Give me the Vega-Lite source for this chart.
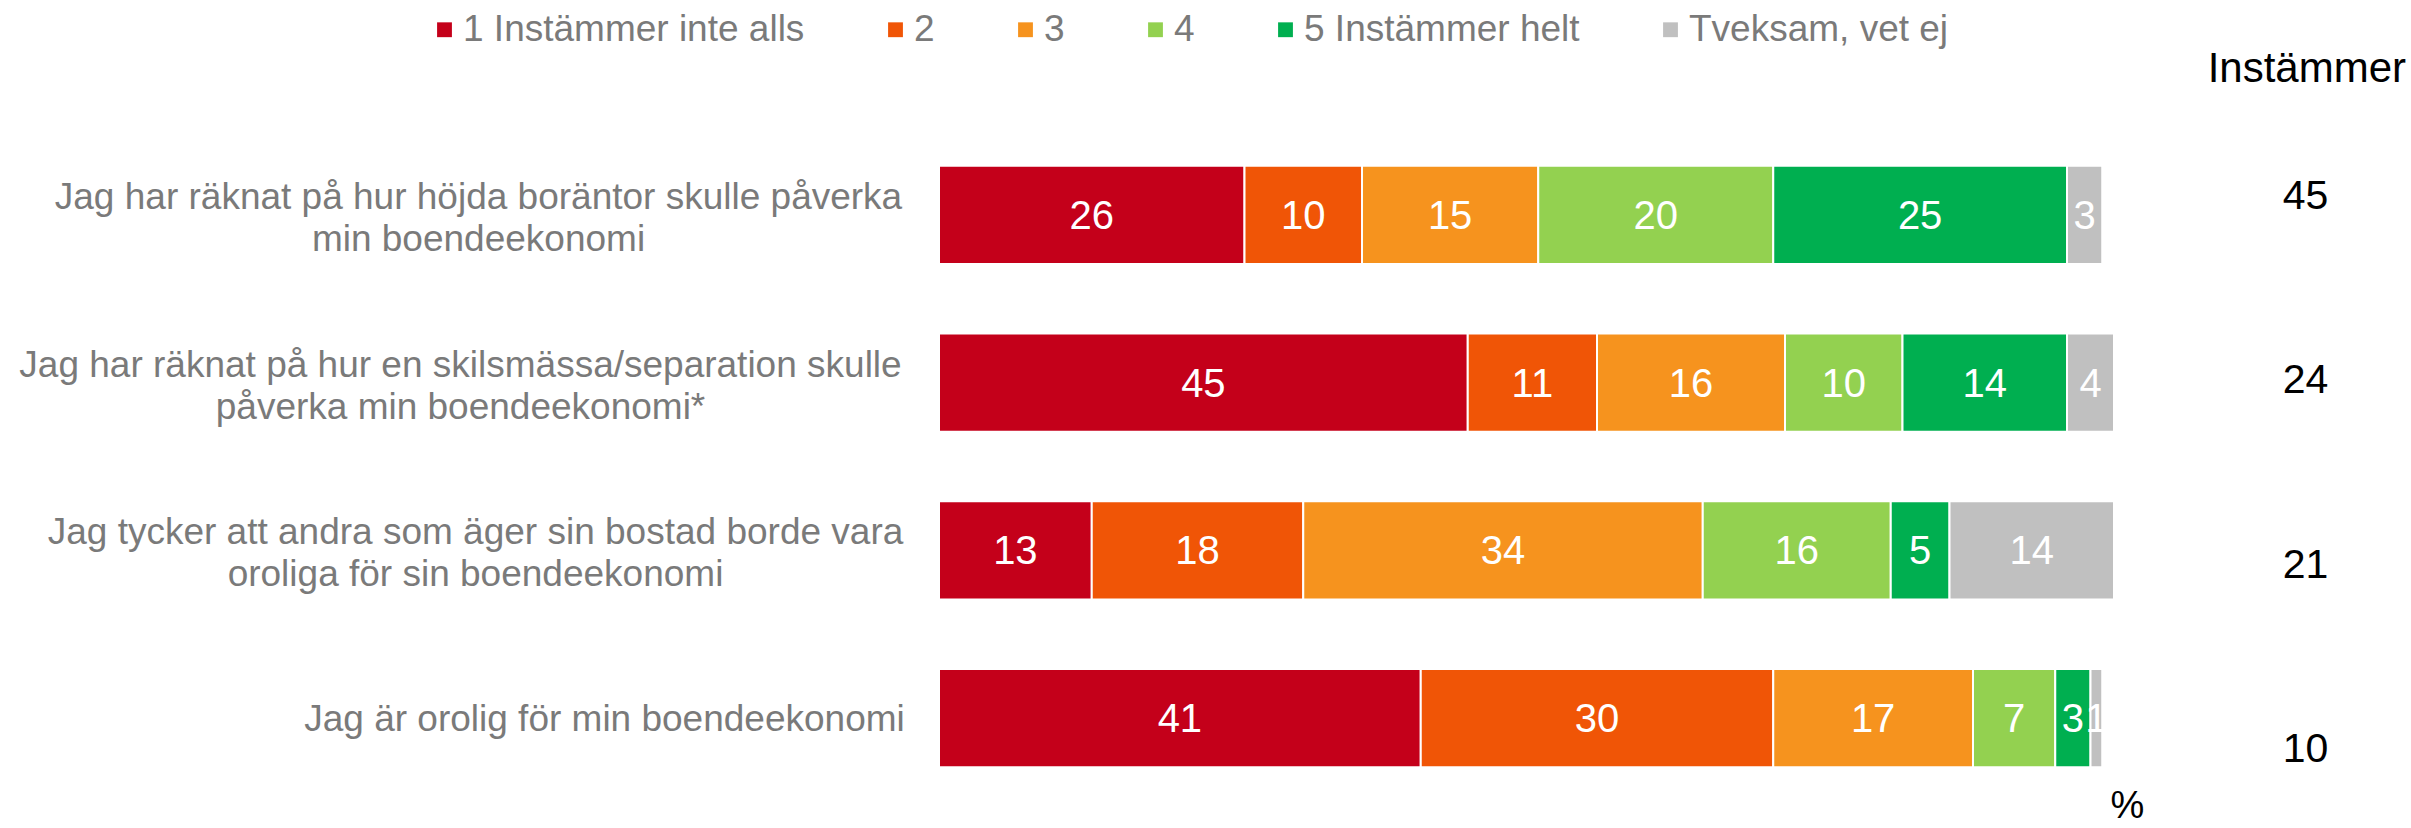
{
  "$schema": "https://vega.github.io/schema/vega-lite/v6.json",
  "width": 1175,
  "height": 671,
  "autosize": "none",
  "padding": {"left": 939, "top": 131, "right": 297, "bottom": 26},
  "background": "white",
  "config": {"view": {"stroke": null}, "font": "Liberation Sans"},
  "title": {"text": "Instämmer", "anchor": "end", "frame": "group", "orient": "top", "fontSize": 42, "fontWeight": "normal", "color": "#000000", "dx": 292, "dy": 80, "offset": 0, "font": "Liberation Sans"},
  "resolve": {"scale": {"y": "independent"}},
  "datasets": {
    "resp": [
      {"q": "Jag har räknat på hur höjda boräntor skulle påverka\nmin boendeekonomi", "cat": "1 Instämmer inte alls", "v": 26},
      {"q": "Jag har räknat på hur höjda boräntor skulle påverka\nmin boendeekonomi", "cat": "2", "v": 10},
      {"q": "Jag har räknat på hur höjda boräntor skulle påverka\nmin boendeekonomi", "cat": "3", "v": 15},
      {"q": "Jag har räknat på hur höjda boräntor skulle påverka\nmin boendeekonomi", "cat": "4", "v": 20},
      {"q": "Jag har räknat på hur höjda boräntor skulle påverka\nmin boendeekonomi", "cat": "5 Instämmer helt", "v": 25},
      {"q": "Jag har räknat på hur höjda boräntor skulle påverka\nmin boendeekonomi", "cat": "Tveksam, vet ej", "v": 3},
      {"q": "Jag har räknat på hur en skilsmässa/separation skulle\npåverka min boendeekonomi*", "cat": "1 Instämmer inte alls", "v": 45},
      {"q": "Jag har räknat på hur en skilsmässa/separation skulle\npåverka min boendeekonomi*", "cat": "2", "v": 11},
      {"q": "Jag har räknat på hur en skilsmässa/separation skulle\npåverka min boendeekonomi*", "cat": "3", "v": 16},
      {"q": "Jag har räknat på hur en skilsmässa/separation skulle\npåverka min boendeekonomi*", "cat": "4", "v": 10},
      {"q": "Jag har räknat på hur en skilsmässa/separation skulle\npåverka min boendeekonomi*", "cat": "5 Instämmer helt", "v": 14},
      {"q": "Jag har räknat på hur en skilsmässa/separation skulle\npåverka min boendeekonomi*", "cat": "Tveksam, vet ej", "v": 4},
      {"q": "Jag tycker att andra som äger sin bostad borde vara\noroliga för sin boendeekonomi", "cat": "1 Instämmer inte alls", "v": 13},
      {"q": "Jag tycker att andra som äger sin bostad borde vara\noroliga för sin boendeekonomi", "cat": "2", "v": 18},
      {"q": "Jag tycker att andra som äger sin bostad borde vara\noroliga för sin boendeekonomi", "cat": "3", "v": 34},
      {"q": "Jag tycker att andra som äger sin bostad borde vara\noroliga för sin boendeekonomi", "cat": "4", "v": 16},
      {"q": "Jag tycker att andra som äger sin bostad borde vara\noroliga för sin boendeekonomi", "cat": "5 Instämmer helt", "v": 5},
      {"q": "Jag tycker att andra som äger sin bostad borde vara\noroliga för sin boendeekonomi", "cat": "Tveksam, vet ej", "v": 14},
      {"q": "Jag är orolig för min boendeekonomi", "cat": "1 Instämmer inte alls", "v": 41},
      {"q": "Jag är orolig för min boendeekonomi", "cat": "2", "v": 30},
      {"q": "Jag är orolig för min boendeekonomi", "cat": "3", "v": 17},
      {"q": "Jag är orolig för min boendeekonomi", "cat": "4", "v": 7},
      {"q": "Jag är orolig för min boendeekonomi", "cat": "5 Instämmer helt", "v": 3},
      {"q": "Jag är orolig för min boendeekonomi", "cat": "Tveksam, vet ej", "v": 1}
    ],
    "agree": [
      {"q": "Jag har räknat på hur höjda boräntor skulle påverka\nmin boendeekonomi", "n": 45},
      {"q": "Jag har räknat på hur en skilsmässa/separation skulle\npåverka min boendeekonomi*", "n": 24},
      {"q": "Jag tycker att andra som äger sin bostad borde vara\noroliga för sin boendeekonomi", "n": 21},
      {"q": "Jag är orolig för min boendeekonomi", "n": 10}
    ]
  },
  "layer": [
    {
      "data": {"name": "resp"},
      "mark": {"type": "bar", "stroke": "white", "strokeWidth": 2},
      "encoding": {
        "y": {
          "field": "q", "type": "nominal", "sort": null,
          "scale": {"paddingInner": 0.415, "paddingOuter": 0.2075},
          "axis": {
            "title": null, "domain": false, "ticks": false,
            "labelAlign": "center", "labelBaseline": "middle",
            "labelFontSize": 37, "labelColor": "#7a7a7a", "labelLineHeight": 42,
            "labelLimit": 0, "labelFont": "Liberation Sans",
            "labelExpr": "split(datum.label, '\\n')",
            "labelOffset": {
              "condition": {"test": "indexof(datum.value, 'orolig för min') >= 0", "value": 2},
              "value": -17
            },
            "labelPadding": {
              "condition": [
                {"test": "indexof(datum.value, 'skilsm') >= 0", "value": 479},
                {"test": "indexof(datum.value, 'orolig för min') >= 0", "value": 335},
                {"test": "indexof(datum.value, 'tycker') >= 0", "value": 464}
              ],
              "value": 461
            }
          }
        },
        "x": {
          "field": "v", "type": "quantitative", "stack": "zero",
          "scale": {"domain": [0, 100]},
          "axis": {
            "domain": false, "ticks": false, "labels": false, "grid": false,
            "title": "%", "titleFontSize": 38, "titleFontWeight": "normal", "titleColor": "#000000",
            "titleAnchor": "end", "titleAlign": "center", "titleX": 1188, "titleY": 4, "titleBaseline": "middle"
          }
        },
        "color": {
          "field": "cat", "type": "nominal",
          "scale": {
            "domain": ["1 Instämmer inte alls", "2", "3", "4", "5 Instämmer helt", "Tveksam, vet ej"],
            "range": ["#C4001A", "#F05506", "#F6931E", "#93D150", "#00AF50", "#C0C0C0"]
          },
          "legend": {
            "orient": "none", "legendX": -513, "legendY": -120, "direction": "horizontal",
            "title": null, "symbolType": "square", "symbolSize": 220, "symbolStrokeWidth": 0,
            "labelFontSize": 37, "labelColor": "#7a7a7a", "labelOffset": 0, "columnPadding": 72,
            "labelLimit": 0, "labelFont": "Liberation Sans"
          }
        },
        "order": {"field": "cat", "sort": "ascending"}
      }
    },
    {
      "data": {"name": "resp"},
      "mark": {"type": "text", "color": "white", "fontSize": 40, "baseline": "middle", "align": "center", "dy": 2},
      "encoding": {
        "y": {"field": "q", "type": "nominal", "sort": null, "scale": {"paddingInner": 0.415, "paddingOuter": 0.2075}, "axis": null},
        "x": {"field": "v", "type": "quantitative", "stack": "zero", "bandPosition": 0.5},
        "detail": {"field": "cat"},
        "order": {"field": "cat", "sort": "ascending"},
        "text": {"field": "v", "type": "quantitative"}
      }
    },
    {
      "data": {"name": "agree"},
      "mark": {"type": "text", "color": "black", "fontSize": 41, "baseline": "middle", "align": "center", "dy": 7},
      "encoding": {
        "y": {"field": "q", "type": "nominal", "sort": null, "scale": {"type": "point", "padding": 0.317}, "axis": null},
        "x": {"datum": 116.3, "type": "quantitative"},
        "text": {"field": "n", "type": "quantitative"}
      }
    }
  ]
}
